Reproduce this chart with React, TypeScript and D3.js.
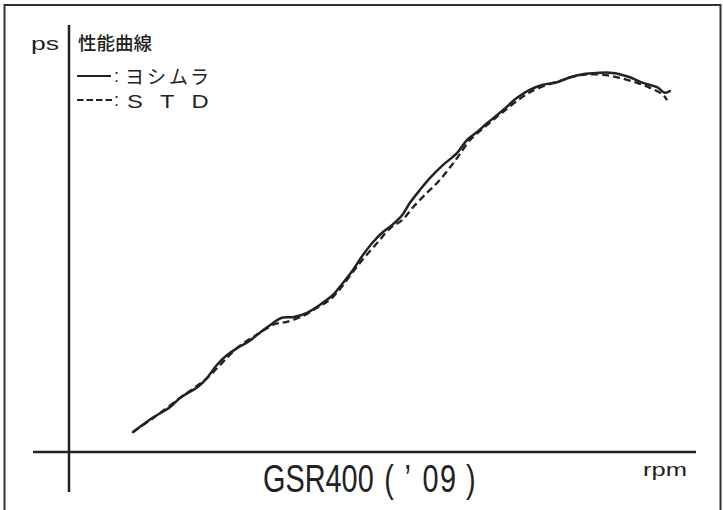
import * as d3 from "d3";
import React, { useRef, useEffect } from "react";

interface Point {
  rpm: number;
  ps: number;
}

// ヨシムラ (solid)
const yoshimuraRpm = [
  2725, 3100, 3430, 3625, 3970, 4140, 4330, 4525, 4715, 4925, 5155, 5345,
  5575, 5785, 6055, 6305, 6555, 6685, 6935, 7125, 7320, 7510, 7680, 7875,
  8025, 8220, 8410, 8660, 8925, 9115, 9310, 9500, 9805, 10075, 10325, 10570,
  10840, 11090, 11335, 11605, 11910, 12235, 12485, 12755, 12905, 13000,
];
const yoshimuraPs = [
  3.2, 5.5, 7.2, 8.7, 10.5, 11.9, 14.0, 15.6, 16.7, 17.7, 19.2, 20.4, 21.6,
  21.7, 22.4, 23.7, 25.3, 26.6, 29.3, 31.7, 33.8, 35.4, 36.5, 38.1, 40.1,
  42.2, 44.1, 46.2, 48.1, 50.2, 51.5, 52.9, 55.0, 57.0, 58.3, 59.1, 59.5,
  60.3, 60.8, 61.0, 61.0, 60.3, 59.4, 58.7, 57.8, 58.1,
];

// STD (dashed)
const stdRpm = [
  2725, 3100, 3625, 4140, 4715, 5155, 5445, 5655, 5980, 6245, 6495, 6685,
  6935, 7165, 7415, 7645, 7875, 8085, 8350, 8545, 8755, 8945, 9175, 9500,
  9805, 10325, 10955, 11335, 11720, 12045, 12370, 12620, 12870, 12945,
];
const stdPs = [
  3.2, 5.4, 8.7, 11.9, 16.7, 19.2, 20.6, 20.9, 21.9, 23.2, 24.5, 26.2, 29.0,
  31.4, 33.8, 36.0, 37.3, 39.4, 41.7, 43.3, 45.4, 47.5, 50.2, 52.6, 54.7,
  57.9, 59.9, 60.7, 60.7, 60.2, 59.4, 58.6, 57.5, 56.6,
];

const rpmDomain = [1500, 13500];
const psDomain = [0, 70];

const title = "性能曲線";
const legendNames = ["ヨシムラ", "STD"];
const yLabel = "ps";
const xLabel = "rpm";
// model label pieces, spaced like the original condensed lettering
const modelParts = ["GSR400", "(", "’", "0", "9", ")"];
const modelGaps = [0, 14, 14, 15, 2, 13];

const W = 723;
const H = 510;
const ink = "#222";
const jpFont = "'Noto Sans CJK JP', sans-serif";
const latinFont = "'Liberation Sans', Arial, sans-serif";

const PowerChart = () => {
  const svgRef = useRef<SVGSVGElement>(null);

  useEffect(() => {
    if (!svgRef.current) return;
    const svg = d3.select(svgRef.current);
    svg.selectAll("*").remove();

    const x = d3.scaleLinear().domain(rpmDomain).range([69, 696]);
    const y = d3.scaleLinear().domain(psDomain).range([452, 17]);

    // frame
    svg
      .append("rect")
      .attr("x", 4.5)
      .attr("y", 5)
      .attr("width", 716)
      .attr("height", 530)
      .attr("fill", "none")
      .attr("stroke", "#333")
      .attr("stroke-width", 2);

    // axes (no ticks)
    svg
      .append("line")
      .attr("x1", 33)
      .attr("x2", 696)
      .attr("y1", y(0))
      .attr("y2", y(0))
      .attr("stroke", ink)
      .attr("stroke-width", 2.5);
    svg
      .append("line")
      .attr("x1", x(rpmDomain[0]))
      .attr("x2", x(rpmDomain[0]))
      .attr("y1", 25)
      .attr("y2", 492)
      .attr("stroke", ink)
      .attr("stroke-width", 2.5);

    const toPoints = (rpm: number[], ps: number[]): Point[] =>
      rpm.map((r, i) => ({ rpm: r, ps: ps[i] }));

    const line = d3
      .line<Point>()
      .x((d) => x(d.rpm))
      .y((d) => y(d.ps))
      .curve(d3.curveCatmullRom.alpha(0.5));

    svg
      .append("path")
      .attr("d", line(toPoints(stdRpm, stdPs)))
      .attr("fill", "none")
      .attr("stroke", ink)
      .attr("stroke-width", 2.3)
      .attr("stroke-dasharray", "7 4");

    svg
      .append("path")
      .attr("d", line(toPoints(yoshimuraRpm, yoshimuraPs)))
      .attr("fill", "none")
      .attr("stroke", ink)
      .attr("stroke-width", 2.5)
      .attr("stroke-linecap", "round");

    // axis labels
    svg
      .append("text")
      .attr("x", 31)
      .attr("y", 50)
      .attr("font-family", latinFont)
      .attr("font-size", 18)
      .attr("textLength", 28)
      .attr("lengthAdjust", "spacingAndGlyphs")
      .attr("fill", ink)
      .text(yLabel);

    svg
      .append("text")
      .attr("x", 643)
      .attr("y", 476)
      .attr("font-family", latinFont)
      .attr("font-size", 18)
      .attr("textLength", 44)
      .attr("lengthAdjust", "spacingAndGlyphs")
      .attr("fill", ink)
      .text(xLabel);

    svg
      .append("text")
      .attr("x", 78)
      .attr("y", 50)
      .attr("font-family", jpFont)
      .attr("font-size", 18.5)
      .attr("font-weight", 500)
      .attr("fill", ink)
      .text(title);

    // legend
    const legendY = [76, 100];
    svg
      .append("line")
      .attr("x1", 77)
      .attr("x2", 111)
      .attr("y1", legendY[0])
      .attr("y2", legendY[0])
      .attr("stroke", ink)
      .attr("stroke-width", 2);
    svg
      .append("line")
      .attr("x1", 77)
      .attr("x2", 112)
      .attr("y1", legendY[1])
      .attr("y2", legendY[1])
      .attr("stroke", ink)
      .attr("stroke-width", 2)
      .attr("stroke-dasharray", "6.5 3");

    legendY.forEach((ly) => {
      svg
        .append("text")
        .attr("x", 114)
        .attr("y", ly + 6)
        .attr("font-family", latinFont)
        .attr("font-size", 18)
        .attr("fill", ink)
        .text(":");
    });

    svg
      .append("text")
      .attr("x", 125)
      .attr("y", legendY[0] + 8)
      .attr("font-family", jpFont)
      .attr("font-size", 19)
      .attr("textLength", 84)
      .attr("lengthAdjust", "spacing")
      .attr("fill", ink)
      .text(legendNames[0]);

    svg
      .append("text")
      .attr("transform", `translate(127,${legendY[1] + 8}) scale(1.25,1)`)
      .attr("font-family", latinFont)
      .attr("font-size", 19)
      .attr("letter-spacing", 13.7)
      .attr("fill", ink)
      .text(legendNames[1]);

    // model label (condensed lettering)
    const model = svg
      .append("text")
      .attr("transform", "translate(263,492) scale(0.76,1)")
      .attr("font-family", latinFont)
      .attr("font-size", 38)
      .attr("fill", ink);
    modelParts.forEach((p, i) => {
      model.append("tspan").attr("dx", modelGaps[i]).text(p);
    });
  }, []);

  return (
    <svg
      ref={svgRef}
      width={W}
      height={H}
      style={{ position: "absolute", left: 0, top: 0, background: "#fff" }}
    ></svg>
  );
};

export default function App() {
  return <PowerChart />;
}
